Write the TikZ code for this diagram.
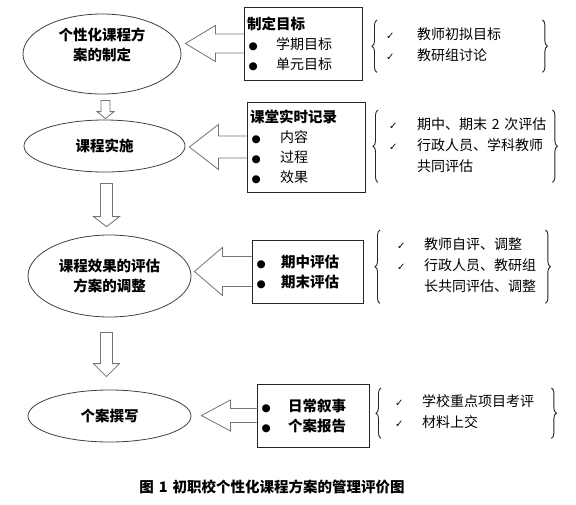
\documentclass[tikz,border=0pt]{standalone}
\usepackage{fontspec}
\setmainfont{Noto Sans CJK SC}
\newfontfamily\symfont{DejaVu Sans}
\usetikzlibrary{positioning,shapes,calc,decorations.pathreplacing}
\tikzstyle{phase} = [ellipse, draw=black!75, line width=0.8pt, inner sep=0pt, align=center, font=\fontsize{14.5}{20}\selectfont\bfseries]
\tikzstyle{phasetext} = [align=center, inner sep=0pt, font=\fontsize{14.5}{20}\selectfont\bfseries]
\tikzstyle{infobox} = [rectangle, draw=black!85, line width=0.8pt, inner xsep=3pt, inner ysep=0pt, align=left, font=\fontsize{14}{20}\selectfont]
\tikzstyle{checks} = [inner sep=0pt, align=left, font=\fontsize{14}{21}\selectfont]
\tikzstyle{blockarrow} = [draw=black!55, line width=0.8pt, line join=miter]
\tikzstyle{curly} = [draw=black!85, line width=0.9pt, decorate, decoration={brace, amplitude=5pt}]
\tikzstyle{caption} = [inner sep=0pt, font=\fontsize{14.5}{16}\selectfont\bfseries]

\newcommand{\bul}[1][28pt]{\makebox[#1][l]{\hspace{1.5pt}{\symfont\fontsize{10.5}{10}\selectfont ●}}}
\newcommand{\chk}{{\symfont\fontsize{10}{10}\selectfont ✓}}
\newcommand{\cklist}[3]{\begin{tabular}{@{\hspace{#1}}p{#2}@{}l@{}}#3\end{tabular}}
\newcommand{\leftblock}[6]{%
  \draw[blockarrow] let \p1=(#1.west), \p2=(#2.east) in
    (\x1,\y1+#5) -- (\x2+#3+#4,\y1+#5) -- (\x2+#3+#4,\y1+#6) -- (\x2+#3,\y1)
    -- (\x2+#3+#4,\y1-#6) -- (\x2+#3+#4,\y1-#5) -- (\x1,\y1-#5);}
\newcommand{\downblock}[5]{%
  \draw[blockarrow] let \p1=#1, \p2=#2 in
    (\x1-#3,\y1) -- (\x1-#3,\y2+#5) -- (\x1-#4,\y2+#5) -- (\x1,\y2)
    -- (\x1+#4,\y2+#5) -- (\x1+#3,\y2+#5) -- (\x1+#3,\y1) -- cycle;}

\begin{document}
\begin{tikzpicture}[x=1pt, y=-1pt]
\useasboundingbox (0,0) rectangle (576,504);

\node[phase, minimum width=158pt, minimum height=80pt, label={[phasetext, yshift=9pt]center:个性化课程方\\案的制定}] (e1) at (102,54) {};
\node[phase, minimum width=161pt, minimum height=52pt] (e2) at (104.5,146) {课程实施};
\node[phase, minimum width=163pt, minimum height=82pt] (e3) at (109.5,276) {课程效果的评估\\方案的调整};
\node[phase, minimum width=163pt, minimum height=52pt] (e4) at (109.5,416) {个案撰写};

\node[infobox, minimum height=73pt, text width=112pt] (b1) at (303,43.5) {{\bfseries\fontsize{14.5}{20}\selectfont 制定目标}\\ \bul[29pt]学期目标\\ \bul[29pt]单元目标};
\node[infobox, minimum height=90pt, text width=112pt] (b2) at (306,147) {{\bfseries\fontsize{14.5}{20}\selectfont 课堂实时记录}\\ \bul[30pt]内容\\ \bul[30pt]过程\\ \bul[30pt]效果};
\node[infobox, minimum height=63pt, text width=105pt] (b3) at (307.5,271.5) {\bul[26pt]{\bfseries\fontsize{14.5}{20}\selectfont 期中评估}\\ \bul[26pt]{\bfseries\fontsize{14.5}{20}\selectfont 期末评估}};
\node[infobox, minimum height=63pt, text width=106pt] (b4) at (313,415.5) {\bul[28pt]{\bfseries\fontsize{14.5}{20}\selectfont 日常叙事}\\ \bul[28pt]{\bfseries\fontsize{14.5}{20}\selectfont 个案报告}};

\leftblock{b1}{e1}{4pt}{30pt}{9.5pt}{18pt}
\leftblock{b2}{e2}{4pt}{29pt}{11pt}{22.5pt}
\leftblock{b3}{e3}{3pt}{28pt}{15pt}{24pt}
\leftblock{b4}{e4}{10pt}{29pt}{7pt}{15.5pt}

\downblock{([xshift=3.5pt,yshift=-6pt]e1.south)}{([yshift=1pt]e2.north)}{4.5pt}{8.5pt}{7pt}
\downblock{([xshift=2pt,yshift=-11pt]e2.south)}{([yshift=8pt]e3.north)}{6pt}{13pt}{10pt}
\downblock{([xshift=-3pt,yshift=-15pt]e3.south)}{([yshift=13pt]e4.north)}{6pt}{13pt}{13pt}

\node[checks, anchor=north west, minimum height=52pt, text width=165pt] (l1) at (377,20) {\cklist{9pt}{31pt}{\chk & 教师初拟目标\\ \chk & 教研组讨论}};
\node[checks, anchor=north west, minimum height=72pt, text width=174pt] (l2) at (378,110) {\cklist{11pt}{28pt}{\chk & 期中、期末 2 次评估\\ \chk & 行政人员、学科教师\\ & 共同评估}};
\node[checks, anchor=north west, minimum height=73pt, text width=165pt] (l3) at (380,230) {\cklist{17pt}{27pt}{\chk & 教师自评、调整\\ \chk & 行政人员、教研组\\ & 长共同评估、调整}};
\node[checks, anchor=north west, minimum height=50pt, text width=170pt] (l4) at (381,388) {\cklist{14pt}{27pt}{\chk & 学校重点项目考评\\ \chk & 材料上交}};

\draw[curly] (l1.south west) -- (l1.north west);
\draw[curly] (l1.north east) -- (l1.south east);
\draw[curly] (l2.south west) -- (l2.north west);
\draw[curly] (l2.north east) -- (l2.south east);
\draw[curly] (l3.south west) -- (l3.north west);
\draw[curly] (l3.north east) -- (l3.south east);
\draw[curly] (l4.south west) -- (l4.north west);
\draw[curly] (l4.north east) -- (l4.south east);

\node[caption] (cap) at (272,487) {图\hspace{5pt}1\hspace{5pt}初职校个性化课程方案的管理评价图};
\end{tikzpicture}
\end{document}
